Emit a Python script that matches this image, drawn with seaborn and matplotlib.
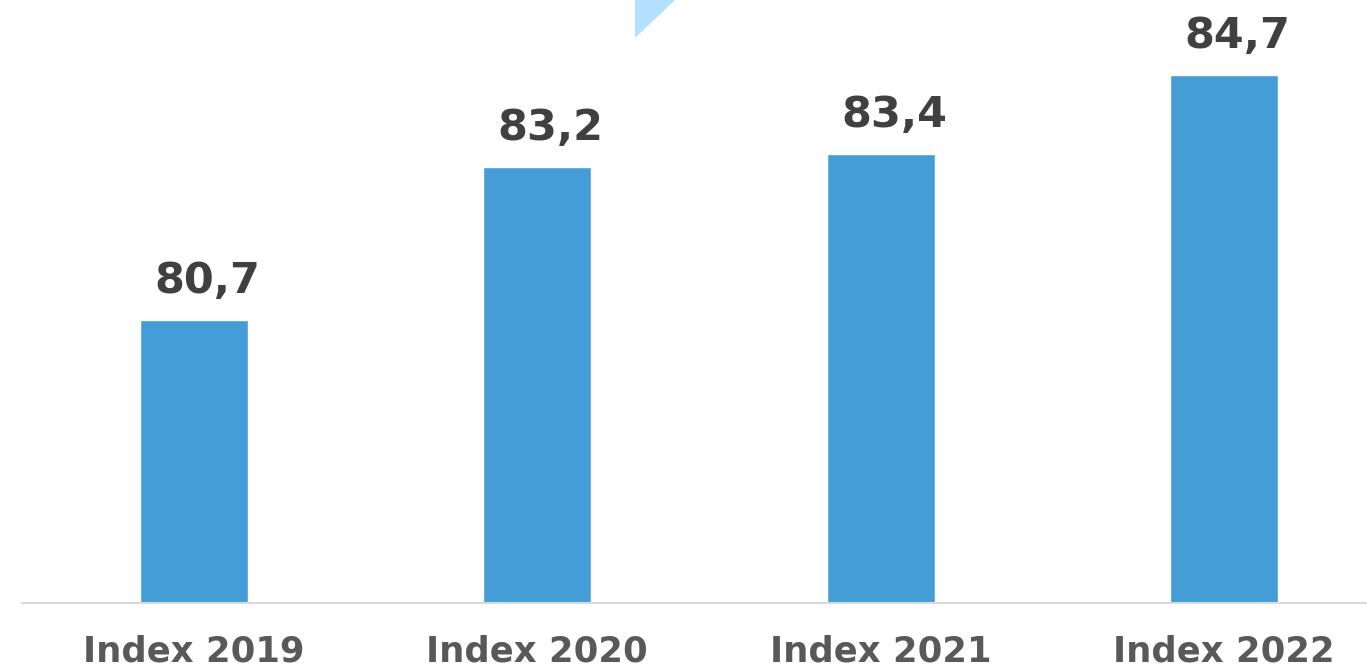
import matplotlib
matplotlib.use("Agg")
import matplotlib.pyplot as plt
import seaborn as sns
import pandas as pd
from matplotlib.patches import Polygon

categories = ["Index 2019", "Index 2020", "Index 2021", "Index 2022"]
values = [80.7, 83.2, 83.4, 84.7]
labels = ["80,7", "83,2", "83,4", "84,7"]

df = pd.DataFrame({"cat": categories, "val": values})

sns.set_style("white")
plt.rcParams['font.family'] = ['DejaVu Sans']

fig = plt.figure(figsize=(13.67, 6.71), dpi=100)
ax = fig.add_axes([22 / 1367, 68 / 671, 1374 / 1367, 603 / 671])

sns.barplot(data=df, x="cat", y="val", color="#449dd7", saturation=1, width=0.314, ax=ax)
ax.set_ylim(76.08, 85.92)
ax.set_xlim(-0.5, 3.5)

# value labels sit a little right of the bar centre, like the original
for i, (v, t) in enumerate(zip(values, labels)):
    ax.annotate(t, (i, v), xytext=(9.5, 13), textcoords="offset points",
                ha="center", va="bottom", fontsize=31, fontweight="bold", color="#404040")

ax.set_xlabel("")
ax.set_ylabel("")
ax.set_yticks([])
ax.tick_params(axis="x", length=0, pad=23, labelsize=25.5, labelcolor="#595959")
for lab in ax.get_xticklabels():
    lab.set_fontweight("bold")
for s in ["top", "left", "right"]:
    ax.spines[s].set_visible(False)
ax.spines["bottom"].set_color("#d9d9d9")
ax.spines["bottom"].set_linewidth(1.5)

# decorative triangle at top
tri = Polygon([[635 / 1367, 1.0], [675 / 1367, 1.0], [635 / 1367, 1 - 38 / 671]],
              closed=True, transform=fig.transFigure, facecolor="#b3e0ff", edgecolor="none")
fig.patches.append(tri)

fig.savefig("out.png", dpi=100)
